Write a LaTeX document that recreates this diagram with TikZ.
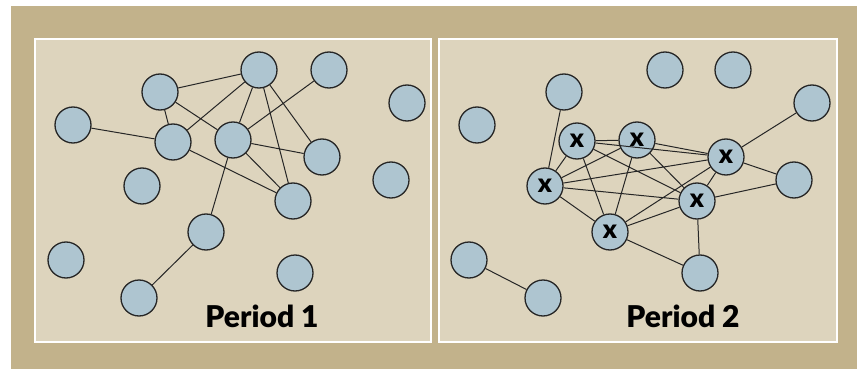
\documentclass[tikz,border=0pt]{standalone}
\usepackage{fontspec}
\setmainfont{Lato}
\newfontfamily\heavy{Lato Black}
\begin{document}
\begin{tikzpicture}[x=1pt,y=-1pt,
  nd/.style={circle,draw=black!85,line width=1.3pt,fill=nodeblue,minimum size=36pt,inner sep=0pt,font=\heavy\fontsize{26}{26}\selectfont},
  ed/.style={draw=black!85,line width=1.0pt},
  panel/.style={fill=panelbg,draw=white,line width=1.5pt},
  lbl/.style={font=\heavy\fontsize{30}{30}\selectfont}]
\definecolor{outer}{RGB}{194,178,139}
\definecolor{panelbg}{RGB}{221,212,189}
\definecolor{nodeblue}{RGB}{174,197,208}
\useasboundingbox (0,0) rectangle (857,369);
\fill[white] (0,0) rectangle (857,369);
\fill[outer] (11,6) rectangle (857,369);
\path[panel] (35,39) rectangle (431,342);
\path[panel] (439,39) rectangle (837,342);
% Period 1
\node[nd] (a) at (259,70) {};
\node[nd] (b) at (329,70) {};
\node[nd] (c) at (160,92) {};
\node[nd] (d) at (407,103) {};
\node[nd] (e) at (73,125) {};
\node[nd] (f) at (173,142) {};
\node[nd] (g) at (233,140) {};
\node[nd] (h) at (322,157) {};
\node[nd] (i) at (142,186) {};
\node[nd] (j) at (391,180) {};
\node[nd] (k) at (293,201) {};
\node[nd] (l) at (206,232) {};
\node[nd] (m) at (66,260) {};
\node[nd] (n) at (295,273) {};
\node[nd] (o) at (139,298) {};
\path[ed] (c) -- (a) (c) -- (f) (c) -- (g) (e) -- (f) (f) -- (a) (f) -- (k)
  (g) -- (a) (g) -- (b) (g) -- (h) (g) -- (k) (g) -- (l) (a) -- (h) (a) -- (k) (l) -- (o);
\node[lbl] (t1) at (262,316) {Period 1};
% Period 2
\node[nd] (p1) at (665,70) {};
\node[nd] (p2) at (733,70) {};
\node[nd] (p3) at (564,92) {};
\node[nd] (p4) at (812,103) {};
\node[nd] (p5) at (477,125) {};
\node[nd] (x1) at (577,141) {x};
\node[nd] (x2) at (637,140) {x};
\node[nd] (x3) at (726,157) {x};
\node[nd] (x4) at (545,186) {x};
\node[nd] (p6) at (794,180) {};
\node[nd] (x5) at (697,201) {x};
\node[nd] (x6) at (610,232) {x};
\node[nd] (p7) at (469,260) {};
\node[nd] (p8) at (700,273) {};
\node[nd] (p9) at (543,298) {};
\path[ed] (p3) -- (x4) (x4) -- (x1) (x4) -- (x2) (x4) -- (x3) (x4) -- (x5) (x4) -- (x6)
  (x1) -- (x2) (x1) -- (x3) (x1) -- (x5) (x1) -- (x6)
  (x2) -- (x3) (x2) -- (x6) (x2) -- (x5)
  (x3) -- (x5) (x3) -- (p4) (x3) -- (p6) (x3) -- (x6)
  (x5) -- (x6) (x5) -- (p6) (x5) -- (p8) (x6) -- (p8) (p7) -- (p9);
\node[lbl] (t2) at (683,316) {Period 2};
\end{tikzpicture}
\end{document}
